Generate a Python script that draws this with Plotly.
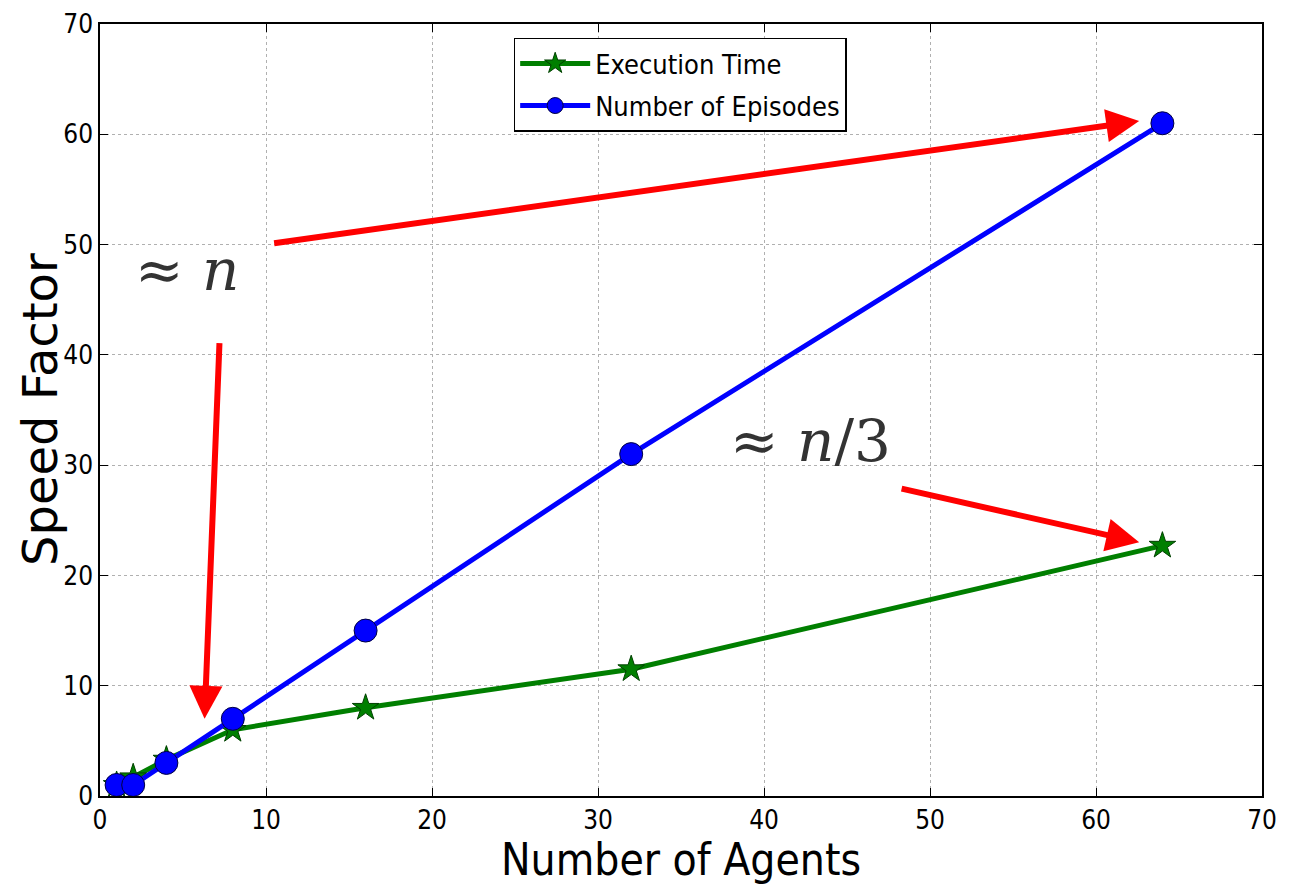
import plotly.graph_objects as go

agents = [1, 2, 4, 8, 16, 32, 64]
exec_time = [1.0, 1.7, 3.3, 6.0, 8.0, 11.5, 22.7]
episodes = [1.0, 1.0, 3.0, 7.0, 15.0, 31.0, 61.0]
x_ticks = [0, 10, 20, 30, 40, 50, 60, 70]
y_ticks = [0, 10, 20, 30, 40, 50, 60, 70]

# arrows: (tail_x, tail_y, head_x, head_y)
arrows = [(10.4, 50.1, 62.6, 61.2), (7.2, 41.2, 6.3, 7.0), (48.2, 27.9, 62.6, 23.0)]
texts = [(5.25, 47.7, "≈ <i>n</i>"), (42.8, 32.2, "≈ <i>n</i>/3")]

FONT = "DejaVu Sans Condensed, DejaVu Sans"

fig = go.Figure()
fig.add_trace(go.Scatter(
    x=agents, y=exec_time, mode="lines+markers", name="Execution Time", legendgroup="a",
    line=dict(color="#007f00", width=5),
    marker=dict(symbol="star", size=20, color="#007f00", line=dict(color="#004000", width=1)),
))
fig.add_trace(go.Scatter(
    x=agents, y=episodes, mode="lines+markers", name="Number of Episodes", legendgroup="b",
    line=dict(color="#0000ff", width=5),
    marker=dict(symbol="circle", size=23, color="#0000ff", line=dict(color="#000040", width=1)),
))

for tx, ty, hx, hy in arrows:
    fig.add_annotation(x=hx, y=hy, ax=tx, ay=ty, xref="x", yref="y", axref="x", ayref="y",
                       showarrow=True, arrowhead=2, arrowsize=1.1, arrowwidth=6,
                       arrowcolor="#ff0000", text="")
for tx, ty, t in texts:
    fig.add_annotation(x=tx, y=ty, xref="x", yref="y", text=t, showarrow=False,
                       font=dict(family="DejaVu Serif, Liberation Serif", size=58, color="#333333"))

# axis titles
fig.add_annotation(x=0.5, y=0, xref="paper", yref="paper", yshift=-63, text="Number of Agents",
                   showarrow=False, yanchor="middle", xanchor="center",
                   font=dict(family=FONT, size=44, color="#000000"))
fig.add_annotation(x=0, y=0.5, xref="paper", yref="paper", xshift=-60, text="Speed Factor",
                   showarrow=False, textangle=-90, yanchor="middle", xanchor="center",
                   font=dict(family="DejaVu Sans", size=48, color="#000000"))

axis_common = dict(
    showgrid=True, gridcolor="#b0b0b0", griddash="dot", gridwidth=1,
    showline=True, linecolor="#000000", linewidth=1.5, mirror="ticks",
    ticks="inside", ticklen=8, tickcolor="#000000", zeroline=False,
    tickfont=dict(family=FONT, size=26, color="#000000"), automargin=False,
)
fig.update_xaxes(range=[0, 70], tickvals=x_ticks, **axis_common)
fig.update_yaxes(range=[0, 70], tickvals=y_ticks, **axis_common)

fig.update_layout(
    width=1284, height=876,
    margin=dict(l=92, r=30, t=16, b=88),
    plot_bgcolor="#ffffff", paper_bgcolor="#ffffff",
    legend=dict(x=0.356, y=0.982, xanchor="left", yanchor="top",
                bordercolor="#000000", borderwidth=1.5, bgcolor="#ffffff",
                font=dict(family=FONT, size=27, color="#000000"),
                itemwidth=70, tracegroupgap=4),
    showlegend=True,
)
fig.write_html("out.html")
